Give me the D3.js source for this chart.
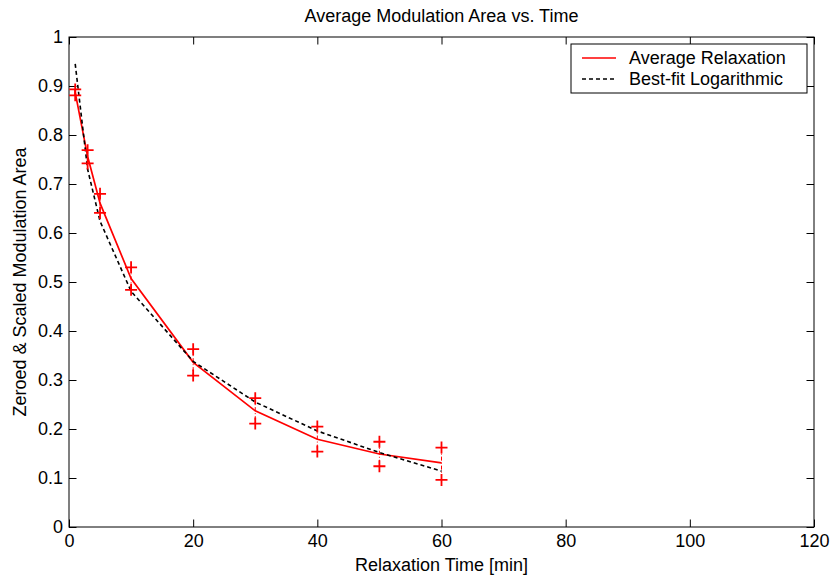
<!DOCTYPE html>
<html>
<head>
<style>
html, body { margin: 0; padding: 0; background: #fff; }
svg { display: block; background: #fff; }
text { font-family: Arial, "Liberation Sans", sans-serif; fill: #000; }
</style>
</head>
<body>
<svg width="833" height="577"></svg>
<script src="https://cdn.jsdelivr.net/npm/d3@7/dist/d3.min.js"></script>
<script>
// relaxation times [min]
var times = [1, 3, 5, 10, 20, 30, 40, 50, 60];
// average relaxation (red line)
var avgValues = [0.887, 0.756, 0.661, 0.507, 0.336, 0.237, 0.179, 0.149, 0.131];
// upper / lower measurements (+ markers)
var upperValues = [0.893, 0.769, 0.680, 0.530, 0.363, 0.263, 0.205, 0.174, 0.162];
var lowerValues = [0.881, 0.742, 0.641, 0.484, 0.309, 0.211, 0.154, 0.124, 0.096];
// best-fit logarithmic (black dashed)
var fitValues = [0.945, 0.730, 0.624, 0.481, 0.338, 0.255, 0.196, 0.152, 0.114];

var xTicks = [0, 20, 40, 60, 80, 100, 120];
var yTicks = [0, 0.1, 0.2, 0.3, 0.4, 0.5, 0.6, 0.7, 0.8, 0.9, 1];

var svg = d3.select("svg");
var pLeft = 69, pRight = 814, pTop = 37, pBottom = 527;
var tickLen = 7.5;

var x = d3.scaleLinear().domain([0, 120]).range([pLeft, pRight]);
var y = d3.scaleLinear().domain([0, 1]).range([pBottom, pTop]);

var fontSize = "18px";

// axes (ticks inward, on all four sides)
svg.append("g")
    .attr("transform", "translate(0," + pBottom + ")")
    .call(d3.axisBottom(x).tickValues(xTicks).tickSizeInner(-tickLen).tickSizeOuter(0).tickPadding(7).tickFormat(d3.format("d")))
    .call(function(g){ g.selectAll("text").style("font-size", fontSize).attr("font-family", null); });
svg.append("g")
    .attr("transform", "translate(0," + pTop + ")")
    .call(d3.axisTop(x).tickValues(xTicks).tickSizeInner(-tickLen).tickSizeOuter(0).tickFormat(""));
svg.append("g")
    .attr("transform", "translate(" + pLeft + ",0)")
    .call(d3.axisLeft(y).tickValues(yTicks).tickSizeInner(-tickLen).tickSizeOuter(0).tickPadding(6).tickFormat(function(d){ return d3.format("~g")(d); }))
    .call(function(g){ g.selectAll("text").style("font-size", fontSize).attr("font-family", null); });
svg.append("g")
    .attr("transform", "translate(" + pRight + ",0)")
    .call(d3.axisRight(y).tickValues(yTicks).tickSizeInner(-tickLen).tickSizeOuter(0).tickFormat(""));

svg.selectAll(".domain").remove();
svg.selectAll(".tick line").attr("stroke", "#000");

// frame
svg.append("rect")
    .attr("x", pLeft).attr("y", pTop)
    .attr("width", pRight - pLeft).attr("height", pBottom - pTop)
    .attr("fill", "none").attr("stroke", "#000").attr("stroke-width", 1);

// error bars (dash-dot)
svg.append("g").selectAll("line")
    .data(times)
    .join("line")
    .attr("x1", function(d){ return x(d); })
    .attr("x2", function(d){ return x(d); })
    .attr("y1", function(d, i){ return y(upperValues[i]); })
    .attr("y2", function(d, i){ return y(lowerValues[i]); })
    .attr("stroke", "red").attr("stroke-width", 1)
    .attr("stroke-dasharray", "4,2,1,2");

var line = d3.line()
    .x(function(d){ return x(d[0]); })
    .y(function(d){ return y(d[1]); });

// average relaxation
svg.append("path")
    .attr("d", line(times.map(function(t, i){ return [t, avgValues[i]]; })))
    .attr("fill", "none").attr("stroke", "red").attr("stroke-width", 1.7);

// best fit
svg.append("path")
    .attr("d", line(times.map(function(t, i){ return [t, fitValues[i]]; })))
    .attr("fill", "none").attr("stroke", "#000").attr("stroke-width", 1.6)
    .attr("stroke-dasharray", "4,3");

// + markers
var pts = [];
times.forEach(function(t, i){
    pts.push([t, upperValues[i]]);
    pts.push([t, lowerValues[i]]);
});
var m = 6;
svg.append("g").selectAll("path")
    .data(pts)
    .join("path")
    .attr("d", function(d){
        var px = x(d[0]), py = y(d[1]);
        return "M" + (px - m) + "," + py + "H" + (px + m) + "M" + px + "," + (py - m) + "V" + (py + m);
    })
    .attr("stroke", "red").attr("stroke-width", 1.8).attr("fill", "none");

// title and axis labels
svg.append("text")
    .attr("x", (pLeft + pRight) / 2).attr("y", 22)
    .attr("text-anchor", "middle").style("font-size", fontSize)
    .text("Average Modulation Area vs. Time");
svg.append("text")
    .attr("x", (pLeft + pRight) / 2).attr("y", 571)
    .attr("text-anchor", "middle").style("font-size", fontSize)
    .text("Relaxation Time [min]");
svg.append("text")
    .attr("transform", "translate(26," + ((pTop + pBottom) / 2) + ") rotate(-90)")
    .attr("text-anchor", "middle").style("font-size", fontSize)
    .text("Zeroed & Scaled Modulation Area");

// legend
var legend = svg.append("g");
legend.append("rect")
    .attr("x", 571).attr("y", 44).attr("width", 236).attr("height", 49)
    .attr("fill", "#fff").attr("stroke", "#000").attr("stroke-width", 1);
var legendItems = [
    { label: "Average Relaxation", color: "red", dash: null, width: 1.7 },
    { label: "Best-fit Logarithmic", color: "#000", dash: "4,3", width: 1.6 }
];
legendItems.forEach(function(item, i){
    var ly = 58 + i * 21;
    legend.append("line")
        .attr("x1", 582).attr("x2", 616).attr("y1", ly).attr("y2", ly)
        .attr("stroke", item.color).attr("stroke-width", item.width)
        .attr("stroke-dasharray", item.dash);
    legend.append("text")
        .attr("x", 629).attr("y", ly).attr("dy", "0.35em")
        .style("font-size", fontSize)
        .text(item.label);
});
</script>
</body>
</html>
